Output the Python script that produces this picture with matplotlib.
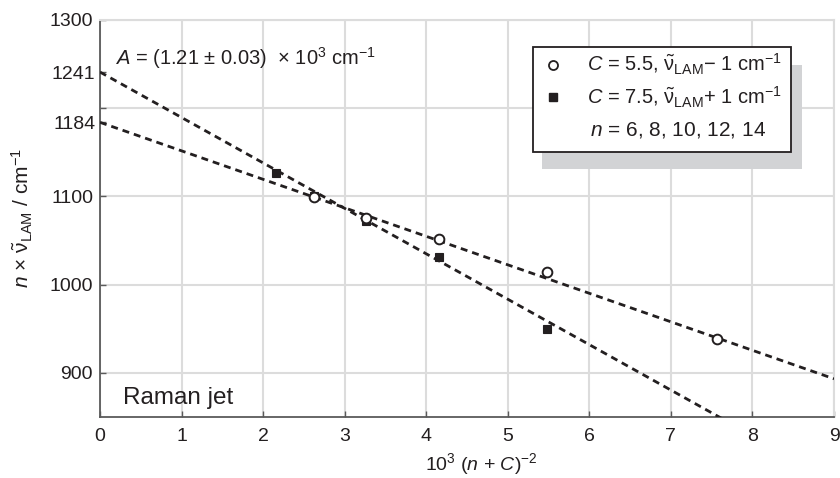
import numpy as np
import matplotlib
matplotlib.use("Agg")
import matplotlib.pyplot as plt
from matplotlib.patches import Rectangle

plt.rcParams['font.family'] = ['Liberation Sans', 'DejaVu Sans']
plt.rcParams['mathtext.fontset'] = 'custom'
plt.rcParams['mathtext.rm'] = 'Liberation Sans'
plt.rcParams['mathtext.it'] = 'Liberation Sans:italic'
plt.rcParams['mathtext.bf'] = 'Liberation Sans:bold'

# ---- data ----
n_values = [6, 8, 10, 12, 14]
C_open = 5.5
C_filled = 7.5
x_open = [1000.0 / (n + C_open) ** 2 for n in n_values]
y_open = [938, 1014, 1052, 1076, 1099]
x_filled = [1000.0 / (n + C_filled) ** 2 for n in n_values]
y_filled = [950, 1031, 1072, 1101, 1127]

fit_open_intercept = 1184
fit_open_slope = -32.3
fit_filled_intercept = 1241
fit_filled_slope = -51.5

x_ticks = [0, 1, 2, 3, 4, 5, 6, 7, 8, 9]
y_major_ticks = [900, 1000, 1100, 1200, 1300]
y_major_labels = ['900', '1000', '1100', '', '1300']
y_minor_ticks = [1184, 1241]
y_minor_labels = ['1184', '1241']

ink = '#231f20'
gridc = '#dcdcdc'

fig = plt.figure(figsize=(8.4, 4.78), dpi=100)
ax = fig.add_axes([100/840, 1-417/478, 734/840, 397/478])
ax.set_xlim(0, 9)
ax.set_ylim(850, 1300)

# grid
ax.set_xticks(x_ticks)
ax.set_yticks(y_major_ticks)
ax.set_yticklabels(y_major_labels)
ax.set_yticks(y_minor_ticks, minor=True)
ax.set_yticklabels(y_minor_labels, minor=True)
ax.grid(True, which='major', color=gridc, lw=1.5, zorder=0)
ax.set_axisbelow(True)

for s in ['left', 'bottom']:
    ax.spines[s].set_color('#5a5a5a')
    ax.spines[s].set_linewidth(1.3)
for s in ['top', 'right']:
    ax.spines[s].set_color(gridc)
    ax.spines[s].set_linewidth(1.5)

ax.tick_params(axis='both', which='both', direction='in', length=4.5, width=1.0,
               color='#5a5a5a', labelsize=14, labelcolor=ink)
ax.tick_params(axis='x', pad=8)
ax.tick_params(axis='y', pad=5)
ax.tick_params(top=False, right=False)

# fit lines
xs = np.array([0, 9.0])
ax.plot(xs, fit_open_intercept + fit_open_slope * xs, color=ink, lw=2.0,
        ls=(0, (2.5, 1.8)), zorder=3)
ax.plot(xs, fit_filled_intercept + fit_filled_slope * xs, color=ink, lw=2.0,
        ls=(0, (2.5, 1.8)), zorder=3)

# markers
ax.plot(x_filled, y_filled, ls='none', marker='s', ms=6.2, mfc=ink, mec=ink,
        mew=0.8, zorder=4)
ax.plot(x_open, y_open, ls='none', marker='o', ms=7, mfc='white', mec=ink,
        mew=1.4, zorder=5)

# axis labels
ax.set_xlabel(r'10$^3$ ($n$ + $C$)$^{-2}$', fontsize=14, color=ink)
ax.xaxis.set_label_coords(0.519, -0.085)
ax.set_ylabel(r'$n$ $\times$ $\tilde{\mathrm{\nu}}_{\mathrm{LAM}}$ / cm$^{-1}$', fontsize=15, color=ink)
ax.yaxis.set_label_coords(-0.088, 0.50)

# annotations
ax.text(0.020, 0.887, r'$A$ = (1.21 $\pm$ 0.03)  $\times$ 10$^3$ cm$^{-1}$',
        transform=ax.transAxes, fontsize=14.5, color=ink, va='baseline', ha='left')
ax.text(0.031, 0.033, 'Raman jet', transform=ax.transAxes, fontsize=17.5,
        color=ink, va='baseline', ha='left')

# custom legend with shadow
ax.add_patch(Rectangle((0.602, 0.625), 0.956-0.602, 0.887-0.625,
                       transform=ax.transAxes, facecolor='#d2d3d5',
                       edgecolor='none', zorder=6))
ax.add_patch(Rectangle((0.590, 0.6675), 0.941-0.590, 0.932-0.6675,
                       transform=ax.transAxes, facecolor='white',
                       edgecolor=ink, lw=1.3, zorder=7))
rows = [0.887, 0.806, 0.723]
ax.plot([0.617], [rows[0]], transform=ax.transAxes, marker='o', ms=6.5,
        mfc='white', mec=ink, mew=1.3, ls='none', zorder=8, clip_on=False)
ax.plot([0.617], [rows[1]], transform=ax.transAxes, marker='s', ms=6,
        mfc=ink, mec=ink, ls='none', zorder=8, clip_on=False)
ax.text(0.663, rows[0], r'$C$ = 5.5, $\tilde{\mathrm{\nu}}_{\mathrm{LAM}}$− 1 cm$^{-1}$',
        transform=ax.transAxes, fontsize=14.5, color=ink, va='center', ha='left', zorder=8)
ax.text(0.663, rows[1], r'$C$ = 7.5, $\tilde{\mathrm{\nu}}_{\mathrm{LAM}}$+ 1 cm$^{-1}$',
        transform=ax.transAxes, fontsize=14.5, color=ink, va='center', ha='left', zorder=8)
ax.text(0.668, rows[2], r'$n$ = ' + ', '.join(str(n) for n in n_values),
        transform=ax.transAxes, fontsize=15, color=ink, va='center', ha='left', zorder=8)

fig.savefig('out.png', dpi=100)
